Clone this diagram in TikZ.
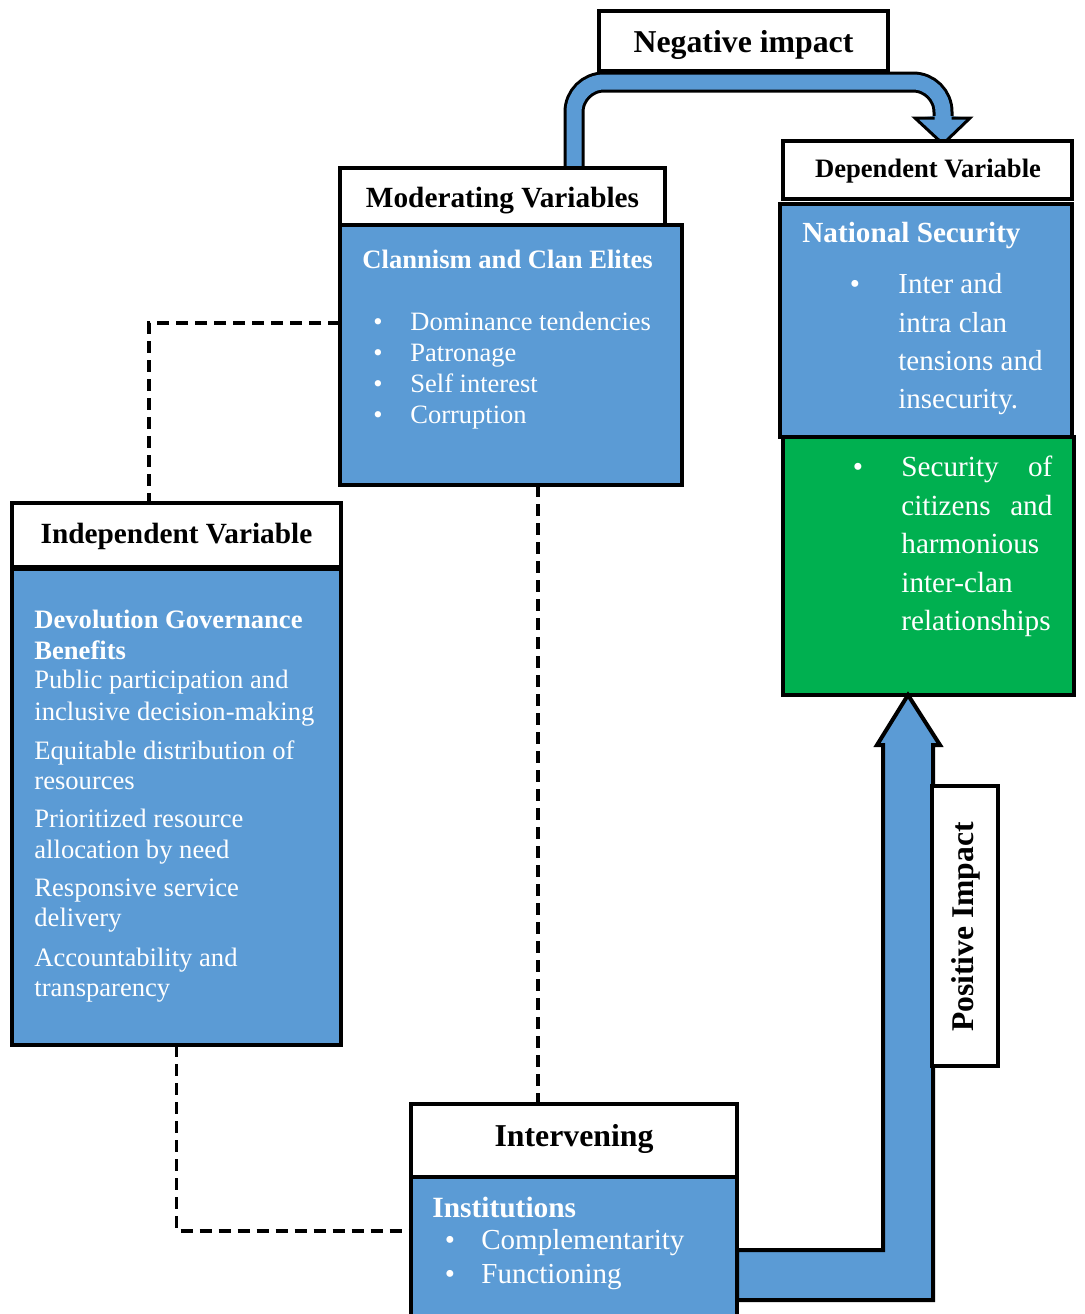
\documentclass[tikz,border=0pt]{standalone}
\usepackage{fontspec}
\setmainfont{Liberation Serif}
\definecolor{boxblue}{RGB}{91,155,213}
\definecolor{boxgreen}{RGB}{0,176,80}
\newcommand{\fsz}[1]{\fontsize{#1}{#1}\selectfont}
\tikzset{
 frame/.style={draw=black, line width=1.6pt, inner sep=0pt, outer sep=0pt, anchor=north west},
 hdr/.style={frame, fill=white},
 bodyb/.style={frame, fill=boxblue},
 bodyg/.style={frame, fill=boxgreen},
 dashc/.style={draw=black, line width=1.7pt, dash pattern=on 6pt off 3.5pt},
 wtxt/.style={text=white, inner sep=0pt, anchor=base west},
 htxt/.style={text=black, inner sep=0pt, anchor=base},
 bul/.style={text=white, inner sep=0pt, anchor=base},
}
\begin{document}
\begin{tikzpicture}[x=0.5pt, y=-0.5pt]
\useasboundingbox (0,0) rectangle (1084,1314);
\clip (0,0) rectangle (1084,1314);
\fill[white] (0,0) rectangle (1084,1314);

% ---------- boxes (headers / bodies) ----------
\node[hdr, minimum width=144.5pt, minimum height=30pt] (neg) at (599,11) {};
\node[bodyb, minimum width=171pt, minimum height=130pt] (modb) at (340,225) {};
\node[hdr, minimum width=162.5pt, minimum height=28.5pt] (modh) at (340,168) {};
\node[hdr, minimum width=144.5pt, minimum height=29pt] (deph) at (783,141) {};
\node[bodyg, minimum width=145.5pt, minimum height=129pt] (depg) at (783,437) {};
\node[bodyb, minimum width=146pt, minimum height=116.5pt] (depb) at (780,204) {};
\node[hdr, minimum width=164.5pt, minimum height=32pt] (indh) at (12,503) {};
\node[bodyb, minimum width=164.5pt, minimum height=238pt] (indb) at (12,569) {};

% ---------- Negative impact arrow ----------
\coordinate (negtip) at (943,144);
\draw[line width=1.5pt, double=boxblue, double distance=7.5pt, rounded corners=15pt]
  (modh.north -| 574,0) -- (574,82) -- (943,82) -- (943,118);
\fill[boxblue] (935,116) -- (915,118) -- (negtip) -- (970,118) -- (951,116) -- cycle;
\draw[line width=1.5pt, line join=miter] (934.5,118) -- (915,118) -- (negtip) -- (970,118) -- (951.5,118);
\node[hdr, minimum width=162.5pt, minimum height=28.5pt] (modh2) at (340,168) {};
\node[hdr, minimum width=144.5pt, minimum height=29pt] (deph2) at (783,141) {};

% ---------- Positive impact arrow ----------
\coordinate (postip) at (908,695);
\draw[line width=2pt, fill=boxblue, line join=miter]
  (737,1250) -- (883,1250) -- (883,745) -- (877,745) -- (postip) -- (940,745)
  -- (933,745) -- (933,1300) -- (737,1300) -- cycle;
\node[hdr, minimum width=33pt, minimum height=140pt] (pos) at (932,786) {};

\node[hdr, minimum width=163pt, minimum height=36.5pt] (inth) at (411,1104) {};
\node[bodyb, minimum width=163pt, minimum height=75pt] (intb) at (411,1177) {};

% ---------- dashed connectors ----------
\draw[dashc] (modb.west |- 0,323) -| (indh.north -| 149,0);
\draw[dashc] (modb.south -| 538,0) -- (inth.north -| 538,0);
\draw[dashc] (indb.south) |- (intb.west |- 0,1231);

% ---------- header texts ----------
\node[htxt, font=\fsz{15.9}\bfseries] (negt) at (743.5,52) {Negative impact};
\node[htxt, font=\fsz{14.65}\bfseries] (modt) at (502.5,207) {Moderating Variables};
\node[htxt, font=\fsz{13.3}\bfseries] (dept) at (928,177) {Dependent Variable};
\node[htxt, font=\fsz{14.65}\bfseries] (indt) at (176.5,543) {Independent Variable};
\node[htxt, font=\fsz{15.9}\bfseries] (intt) at (574,1146) {Intervening};
\node[htxt, font=\fsz{15.8}\bfseries, rotate=90] (post) at (973,927) {Positive Impact};

% ---------- moderating body ----------
\node[wtxt, font=\fsz{13.3}\bfseries] (modhead) at (362,268) {Clannism and Clan Elites};
\foreach \t [count=\i] in {Dominance tendencies, Patronage, Self interest, Corruption} {
  \node[bul, font=\fsz{13.25}] (mb\i) at (378, {330+31*(\i-1)}) {•};
  \node[wtxt, font=\fsz{13.25}] (mt\i) at (410, {330+31*(\i-1)}) {\t};
}

% ---------- dependent body ----------
\node[wtxt, font=\fsz{14.6}\bfseries] (dephead) at (802,242) {National Security};
\node[bul, font=\fsz{14.5}] (db1) at (855,293) {•};
\foreach \y/\t [count=\i] in {293/Inter and, 332/intra clan, 370/tensions and, 408/insecurity.} {
  \node[wtxt, font=\fsz{14.5}] (dt\i) at (898,\y) {\t};
}
\node[bul, font=\fsz{14.6}] (gb1) at (858,476) {•};
\node[wtxt, font=\fsz{14.6}] (gt1) at (901,476) {\makebox[75.5pt][s]{Security of}};
\node[wtxt, font=\fsz{14.6}] (gt2) at (901,515) {\makebox[75.5pt][s]{citizens and}};
\node[wtxt, font=\fsz{14.6}] (gt3) at (901,553) {harmonious};
\node[wtxt, font=\fsz{14.6}] (gt4) at (901,592) {inter-clan};
\node[wtxt, font=\fsz{14.6}] (gt5) at (901,630) {relationships};

% ---------- independent body ----------
\node[wtxt, font=\fsz{13.3}\bfseries] (indhead1) at (34,628) {Devolution Governance};
\node[wtxt, font=\fsz{13.3}\bfseries] (indhead2) at (34,659) {Benefits};
\foreach \y/\t [count=\i] in {688/Public participation and, 720/inclusive decision-making,
   759/Equitable distribution of, 789/resources, 827/Prioritized resource,
   858/allocation by need, 896/Responsive service, 926/delivery,
   966/Accountability and, 996/transparency} {
  \node[wtxt, font=\fsz{13.3}] (it\i) at (34,\y) {\t};
}

% ---------- intervening body ----------
\node[wtxt, font=\fsz{14.7}\bfseries] (inthead) at (432,1217) {Institutions};
\foreach \y/\t [count=\i] in {1249/Complementarity, 1283/Functioning} {
  \node[bul, font=\fsz{14.5}] (ib\i) at (450,\y) {•};
  \node[wtxt, font=\fsz{14.5}] (nt\i) at (481,\y) {\t};
}
\end{tikzpicture}
\end{document}
